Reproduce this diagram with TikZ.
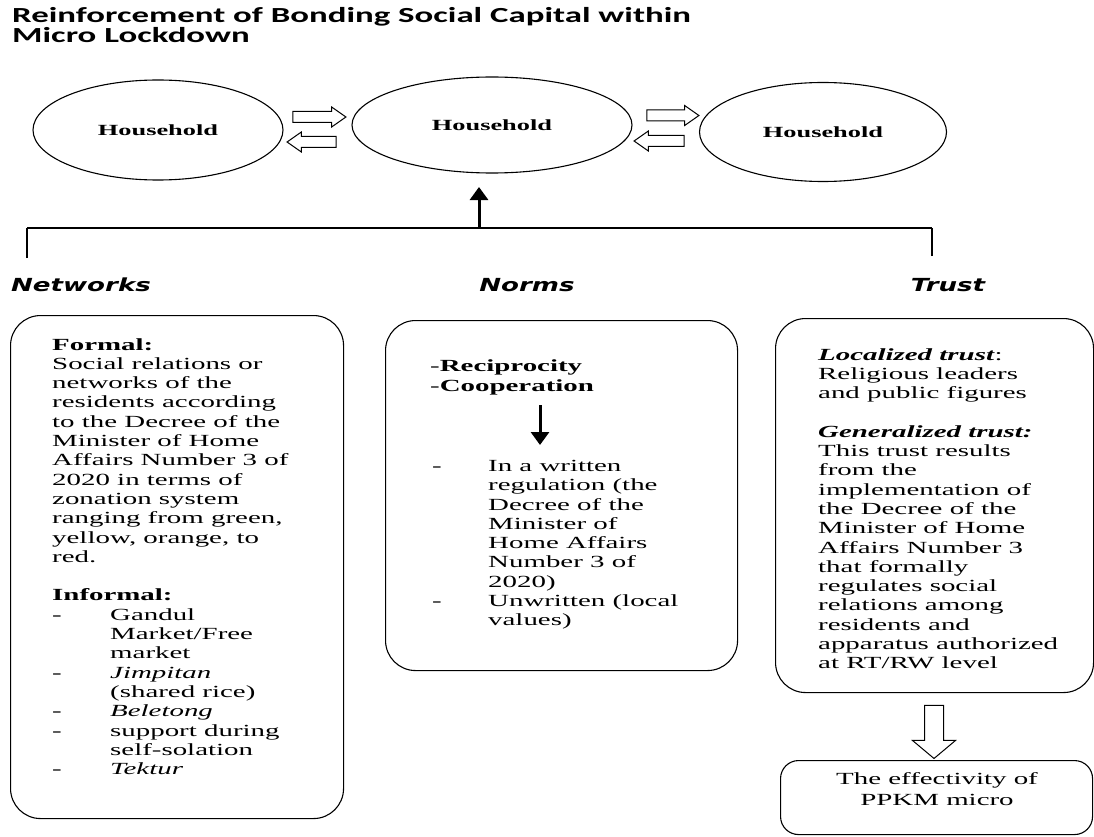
\documentclass[tikz,border=0pt]{standalone}
\usepackage{fontspec}
\setmainfont{Liberation Serif}[FakeStretch=1.7]
\newfontfamily\titlefont{Carlito}[FakeStretch=1.62]
\newfontfamily\headfont{DejaVu Sans}[FakeStretch=1.45]
\usetikzlibrary{arrows.meta,shapes.geometric,shapes.arrows}
\newcommand\itemdash[1][58pt]{\makebox[#1][l]{-}}
\newcommand\itemind[1][58pt]{\hspace*{#1}}
\tikzset{>={Triangle[width=18pt,length=13pt]},
  house/.style = {
    ellipse, draw=black, line width=1.1pt, inner sep=0pt,
    font=\fontsize{15.5}{19}\selectfont\bfseries
  },
  blockarrow/.style = {
    single arrow, draw=black, line width=1pt, fill=white, inner sep=5pt,
    single arrow head extend=4.5pt, single arrow tip angle=70
  },
  frame/.style = {
    rectangle, draw=black, line width=1.1pt, rounded corners=30pt,
    anchor=north west, inner sep=0pt
  },
  boxtext/.style = {
    anchor=north west, align=left, inner sep=0pt,
    font=\fontsize{17}{19.3}\selectfont
  },
  head/.style = {font=\headfont\fontsize{18}{20}\selectfont\bfseries\itshape, inner sep=0pt},
}

\begin{document}
\begin{tikzpicture}[x=1pt, y=-1pt]
  \useasboundingbox (0,0) rectangle (1094,837);
  % title
  \node (title) [anchor=north west, align=left, inner sep=0pt,
    font=\titlefont\fontsize{21.5}{20.5}\selectfont\bfseries] at (12,7)
    {Reinforcement of Bonding Social Capital within\\Micro Lockdown};
  % households
  \node (hhL) [house, minimum width=250pt, minimum height=100pt] at (158,130) {Household};
  \node (hhM) [house, minimum width=280pt, minimum height=96pt] at (492,125) {Household};
  \node (hhR) [house, minimum width=247pt, minimum height=99pt] at (823,132) {Household};
  \node (toM1) [blockarrow, minimum height=53pt] at (315.5,117) {};
  \node (toL1) [blockarrow, minimum height=49pt, shape border rotate=180] at (315.5,142) {};
  \node (toR2) [blockarrow, minimum height=52pt] at (669,115.5) {};
  \node (toM2) [blockarrow, minimum height=50pt, shape border rotate=180] at (663,141) {};
  % bracket
  \coordinate (brL) at (27,258);
  \coordinate (brLt) at (27,228);
  \coordinate (brRt) at (932,228);
  \coordinate (brR) at (932,256);
  \coordinate (brM) at (479,228);
  \coordinate (upTip) at (479,187);
  \draw[line width=1.3pt] (brLt) -- (brRt);
  \draw[line width=2.6pt] (brL) -- (brLt);
  \draw[line width=2.6pt] (brR) -- (brRt);
  \draw[->, line width=3pt] (brM) -- (upTip);
  % headers
  \node (net) [head] at (81,285) {Networks};
  \node (nrm) [head] at (527,285) {Norms};
  \node (tru) [head] at (948,285) {Trust};
  % networks
  \node (netbox) [frame, minimum width=333pt, minimum height=503pt] at (10,315) {};
  \node (nettext) [boxtext] at (52,338) {\textbf{Formal:}\\
    Social relations or\\
    networks of the\\
    residents according\\
    to the Decree of the\\
    Minister of Home\\
    Affairs Number 3 of\\
    2020 in terms of\\
    zonation system\\
    ranging from green,\\
    yellow, orange, to\\
    red.\\[19.3pt]
    \textbf{Informal:}\\
    \itemdash Gandul\\
    \itemind Market/Free\\
    \itemind market\\
    \itemdash\textit{Jimpitan}\\
    \itemind (shared rice)\\
    \itemdash\textit{Beletong}\\
    \itemdash support during\\
    \itemind self-solation\\
    \itemdash\textit{Tektur}};
  % norms
  \node (nrmbox) [frame, minimum width=352pt, minimum height=350pt] at (385,320) {};
  \node (nrmtop) [boxtext] at (430,360) {-\textbf{Reciprocity}\\-\textbf{Cooperation}};
  \coordinate (nrmA) at (540,405);
  \coordinate (nrmB) at (540,445);
  \draw[->, line width=3pt] (nrmA) -- (nrmB);
  \node (nrmlist) [boxtext] at (432,460) {\itemdash[56pt]In a written\\
    \itemind[56pt]regulation (the\\
    \itemind[56pt]Decree of the\\
    \itemind[56pt]Minister of\\
    \itemind[56pt]Home Affairs\\
    \itemind[56pt]Number 3 of\\
    \itemind[56pt]2020)\\
    \itemdash[56pt]Unwritten (local\\
    \itemind[56pt]values)};
  % trust
  \node (trubox) [frame, minimum width=318pt, minimum height=374pt] at (775,318) {};
  \node (trutext) [boxtext] at (818,348) {\textbf{\textit{Localized trust}}:\\
    Religious leaders\\
    and public figures\\[19.3pt]
    \textbf{\textit{Generalized trust:}}\\
    This trust results\\
    from the\\
    implementation of\\
    the Decree of the\\
    Minister of Home\\
    Affairs Number 3\\
    that formally\\
    regulates social\\
    relations among\\
    residents and\\
    apparatus authorized\\
    at RT/RW level};
  \node (toEff) [blockarrow, minimum height=53pt, inner sep=9pt,
    single arrow head extend=12pt, single arrow tip angle=100,
    shape border rotate=270] at (934,728) {};
  \node (effbox) [frame, rounded corners=18pt, minimum width=312pt, minimum height=74pt] at (780,760) {};
  \node (efftext) [align=center, inner sep=0pt, font=\fontsize{17}{21}\selectfont] at (937,789)
    {The effectivity of\\PPKM micro};
\end{tikzpicture}
\end{document}
